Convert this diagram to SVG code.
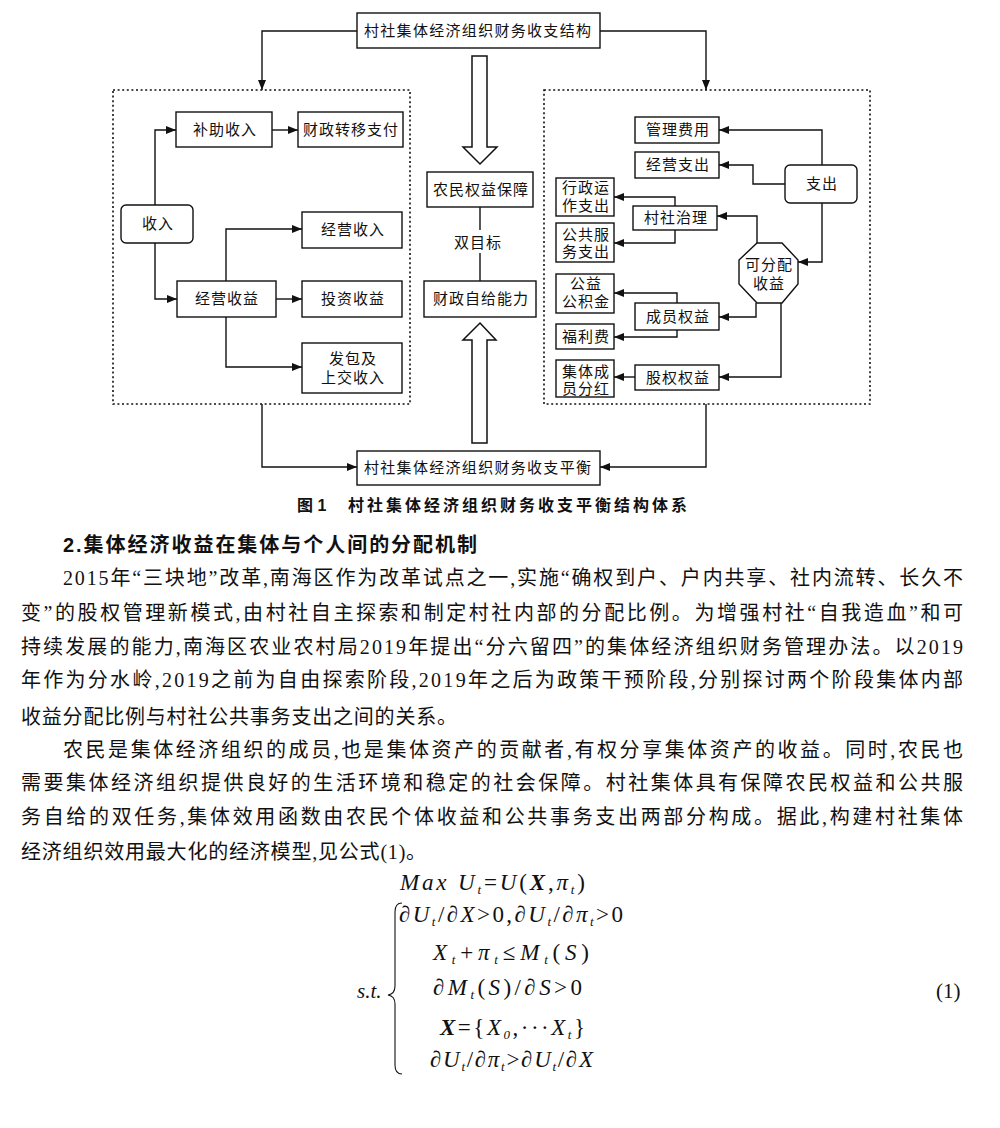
<svg xmlns="http://www.w3.org/2000/svg" width="1000" height="1128" viewBox="0 0 1000 1128">
<style>
.bx{fill:#fff;stroke:#111;stroke-width:1.4}
.dot{fill:none;stroke:#111;stroke-width:1.6;stroke-dasharray:2 2.6}
.ln{fill:none;stroke:#111;stroke-width:1.4}
.ha{fill:#fff;stroke:#111;stroke-width:1.5}
.t{font-family:"Liberation Serif","Noto Sans CJK SC",serif;font-size:15px;fill:#111;text-anchor:middle;letter-spacing:1px}
.body{font-family:"Liberation Serif","Noto Sans CJK SC",serif;font-size:20px;fill:#111}
.hd{font-family:"Liberation Sans","Noto Sans CJK SC",sans-serif;font-size:20px;font-weight:bold;fill:#111}
.cap{font-family:"Liberation Sans","Noto Sans CJK SC",sans-serif;font-size:16px;font-weight:bold;fill:#111}
.m{font-family:"Liberation Serif","DejaVu Serif",serif;font-size:23px;fill:#111}
.i{font-style:italic}
.b{font-weight:bold;font-style:italic}
.s{font-size:13px;font-style:italic}
</style>
<defs>
<marker id="ar" viewBox="0 0 10 8" refX="10" refY="4" markerWidth="10" markerHeight="8" markerUnits="userSpaceOnUse" orient="auto">
<path d="M0,0 L10,4 L0,8 z" fill="#111"/>
</marker>
</defs>
<rect width="1000" height="1128" fill="#fff"/>

<g id="frames">
<rect class="dot" x="113" y="90" width="297" height="314"/>
<rect class="dot" x="544" y="90" width="326" height="314"/>
</g>

<g id="connectors">
<path class="ln" d="M357,31 H262 V90" marker-end="url(#ar)"/>
<path class="ln" d="M600,31 H706 V90" marker-end="url(#ar)"/>
<path class="ln" d="M262,404 V467 H357" marker-end="url(#ar)"/>
<path class="ln" d="M706,404 V467 H600" marker-end="url(#ar)"/>
<path class="ln" d="M155,205 V130 H176" marker-end="url(#ar)"/>
<path class="ln" d="M155,243 V299 H177" marker-end="url(#ar)"/>
<path class="ln" d="M272,130 H298" marker-end="url(#ar)"/>
<path class="ln" d="M276,299 H302" marker-end="url(#ar)"/>
<path class="ln" d="M226,281 V229 H302" marker-end="url(#ar)"/>
<path class="ln" d="M226,317 V367 H302" marker-end="url(#ar)"/>
<path class="ln" d="M822,165 V130 H719" marker-end="url(#ar)"/>
<path class="ln" d="M785,184 H753 V165 H719" marker-end="url(#ar)"/>
<path class="ln" d="M822,203 V262 H798" marker-end="url(#ar)"/>
<path class="ln" d="M757,243 V216 H717" marker-end="url(#ar)"/>
<path class="ln" d="M675,206 V197 H614" marker-end="url(#ar)"/>
<path class="ln" d="M675,230 V243 H614" marker-end="url(#ar)"/>
<path class="ln" d="M756,303 V317 H719" marker-end="url(#ar)"/>
<path class="ln" d="M781,303 V377 H719" marker-end="url(#ar)"/>
<path class="ln" d="M677,303 V293 H614" marker-end="url(#ar)"/>
<path class="ln" d="M677,330 V337 H614" marker-end="url(#ar)"/>
<path class="ln" d="M635,377 H614" marker-end="url(#ar)"/>
<path class="ln" d="M480,207 V230"/>
<path class="ln" d="M480,253 V281"/>
<polygon class="ha" points="472,56 487,56 487,147 497,147 480,164 463,147 472,147"/>
<polygon class="ha" points="480,323 496,340 487,340 487,443 472,443 472,340 463,340"/>
</g>

<g id="n-top"><rect class="bx" x="357" y="13" width="243" height="35"/><text class="t" x="478" y="36" textLength="228" lengthAdjust="spacing">村社集体经济组织财务收支结构</text></g>
<g id="n-bottom"><rect class="bx" x="357" y="451" width="243" height="34"/><text class="t" x="478" y="473" textLength="228" lengthAdjust="spacing">村社集体经济组织财务收支平衡</text></g>

<g id="n-buzhu"><rect class="bx" x="176" y="112" width="96" height="35"/><text class="t" x="225" y="135">补助收入</text></g>
<g id="n-caizheng"><rect class="bx" x="298" y="112" width="105" height="35"/><text class="t" x="351" y="135">财政转移支付</text></g>
<g id="n-shouru"><rect class="bx" x="121" y="205" width="72" height="38" rx="5"/><text class="t" x="158" y="229">收入</text></g>
<g id="n-jyshouru"><rect class="bx" x="302" y="212" width="100" height="36"/><text class="t" x="353" y="235">经营收入</text></g>
<g id="n-jyshouyi"><rect class="bx" x="177" y="281" width="99" height="36"/><text class="t" x="227" y="304">经营收益</text></g>
<g id="n-touzi"><rect class="bx" x="302" y="281" width="100" height="36"/><text class="t" x="353" y="304">投资收益</text></g>
<g id="n-fabao"><rect class="bx" x="302" y="343" width="100" height="50"/><text class="t" x="353" y="364">发包及</text><text class="t" x="353" y="383">上交收入</text></g>

<g id="n-nongmin"><rect class="bx" x="427" y="172" width="106" height="35"/><text class="t" x="481" y="195">农民权益保障</text></g>
<g id="n-shuang"><text class="t" x="478" y="248">双目标</text></g>
<g id="n-zigei"><rect class="bx" x="424" y="281" width="112" height="36"/><text class="t" x="481" y="304">财政自给能力</text></g>

<g id="n-guanli"><rect class="bx" x="635" y="117" width="84" height="26"/><text class="t" x="678" y="135">管理费用</text></g>
<g id="n-jyzhichu"><rect class="bx" x="635" y="152" width="84" height="26"/><text class="t" x="678" y="170">经营支出</text></g>
<g id="n-zhichu"><rect class="bx" x="785" y="165" width="72" height="38" rx="5"/><text class="t" x="822" y="189">支出</text></g>
<g id="n-xingzheng"><rect class="bx" x="556" y="178" width="58" height="38"/><text class="t" x="586" y="193">行政运</text><text class="t" x="586" y="211">作支出</text></g>
<g id="n-zhili"><rect class="bx" x="633" y="206" width="84" height="24"/><text class="t" x="676" y="223">村社治理</text></g>
<g id="n-gonggong"><rect class="bx" x="556" y="223" width="58" height="39"/><text class="t" x="586" y="240">公共服</text><text class="t" x="586" y="257">务支出</text></g>
<g id="n-kefenpei"><polygon class="bx" points="757,243 782,243 798,260 798,284 782,303 757,303 739,284 739,260"/><text class="t" x="769" y="270">可分配</text><text class="t" x="769" y="289">收益</text></g>
<g id="n-gongyi"><rect class="bx" x="556" y="274" width="58" height="39"/><text class="t" x="586" y="289">公益</text><text class="t" x="586" y="307">公积金</text></g>
<g id="n-chengyuan"><rect class="bx" x="635" y="303" width="84" height="27"/><text class="t" x="678" y="322">成员权益</text></g>
<g id="n-fuli"><rect class="bx" x="556" y="324" width="58" height="25"/><text class="t" x="586" y="342">福利费</text></g>
<g id="n-fenhong"><rect class="bx" x="556" y="360" width="58" height="37"/><text class="t" x="586" y="377">集体成</text><text class="t" x="586" y="394">员分红</text></g>
<g id="n-guquan"><rect class="bx" x="635" y="365" width="84" height="25"/><text class="t" x="678" y="383">股权权益</text></g>

<g id="caption">
<text class="cap" x="297" y="511">图 1</text>
<text class="cap" x="348" y="511" textLength="339" lengthAdjust="spacing">村社集体经济组织财务收支平衡结构体系</text>
</g>

<g id="body">
<text class="hd" x="63" y="552" textLength="414" lengthAdjust="spacing">2.集体经济收益在集体与个人间的分配机制</text>
<text class="body" x="63" y="585" textLength="900" lengthAdjust="spacing">2015年“三块地”改革,南海区作为改革试点之一,实施“确权到户、户内共享、社内流转、长久不</text>
<text class="body" x="21" y="620" textLength="942" lengthAdjust="spacing">变”的股权管理新模式,由村社自主探索和制定村社内部的分配比例。为增强村社“自我造血”和可</text>
<text class="body" x="21" y="654" textLength="942" lengthAdjust="spacing">持续发展的能力,南海区农业农村局2019年提出“分六留四”的集体经济组织财务管理办法。以2019</text>
<text class="body" x="21" y="687" textLength="942" lengthAdjust="spacing">年作为分水岭,2019之前为自由探索阶段,2019年之后为政策干预阶段,分别探讨两个阶段集体内部</text>
<text class="body" x="21" y="724" letter-spacing="0.8">收益分配比例与村社公共事务支出之间的关系。</text>
<text class="body" x="63" y="757" textLength="900" lengthAdjust="spacing">农民是集体经济组织的成员,也是集体资产的贡献者,有权分享集体资产的收益。同时,农民也</text>
<text class="body" x="21" y="790" textLength="942" lengthAdjust="spacing">需要集体经济组织提供良好的生活环境和稳定的社会保障。村社集体具有保障农民权益和公共服</text>
<text class="body" x="21" y="824" textLength="942" lengthAdjust="spacing">务自给的双任务,集体效用函数由农民个体收益和公共事务支出两部分构成。据此,构建村社集体</text>
<text class="body" x="21" y="859" letter-spacing="0.8">经济组织效用最大化的经济模型,见公式(1)。</text>
</g>

<g id="formula">
<text class="m" x="400" y="890" textLength="185" lengthAdjust="spacing"><tspan class="i">Max U</tspan><tspan class="s" dy="4">t</tspan><tspan dy="-4">=</tspan><tspan class="i">U</tspan>(<tspan class="b">X</tspan>,<tspan class="i">π</tspan><tspan class="s" dy="4">t</tspan><tspan dy="-4">)</tspan></text>
<path class="ln" d="M402,903 Q395,903 395,912 L395,986 Q395,994 388,995 Q395,996 395,1004 L395,1065 Q395,1074 402,1074" style="stroke-width:1.1"/>
<text class="m" x="399" y="922" textLength="224" lengthAdjust="spacing">∂<tspan class="i">U</tspan><tspan class="s" dy="4">t</tspan><tspan dy="-4">/∂</tspan><tspan class="i">X</tspan>&gt;0,∂<tspan class="i">U</tspan><tspan class="s" dy="4">t</tspan><tspan dy="-4">/∂</tspan><tspan class="i">π</tspan><tspan class="s" dy="4">t</tspan><tspan dy="-4">&gt;0</tspan></text>
<text class="m" x="433" y="960" textLength="156" lengthAdjust="spacing"><tspan class="i">X</tspan><tspan class="s" dy="4">t</tspan><tspan dy="-4">+</tspan><tspan class="i">π</tspan><tspan class="s" dy="4">t</tspan><tspan dy="-4">≤</tspan><tspan class="i">M</tspan><tspan class="s" dy="4">t</tspan><tspan dy="-4">(</tspan><tspan class="i">S</tspan>)</text>
<text class="m" x="433" y="995" textLength="149" lengthAdjust="spacing">∂<tspan class="i">M</tspan><tspan class="s" dy="4">t</tspan><tspan dy="-4">(</tspan><tspan class="i">S</tspan>)/∂<tspan class="i">S</tspan>&gt;0</text>
<text class="m" x="440" y="1035" textLength="145" lengthAdjust="spacing"><tspan class="b">X</tspan>={<tspan class="i">X</tspan><tspan class="s" dy="4">0</tspan><tspan dy="-4">,···</tspan><tspan class="i">X</tspan><tspan class="s" dy="4">t</tspan><tspan dy="-4">}</tspan></text>
<text class="m" x="430" y="1067" textLength="163" lengthAdjust="spacing">∂<tspan class="i">U</tspan><tspan class="s" dy="4">t</tspan><tspan dy="-4">/∂</tspan><tspan class="i">π</tspan><tspan class="s" dy="4">t</tspan><tspan dy="-4">&gt;∂</tspan><tspan class="i">U</tspan><tspan class="s" dy="4">t</tspan><tspan dy="-4">/∂</tspan><tspan class="i">X</tspan></text>
<text class="m i" x="357" y="998" style="font-size:21px">s.t.</text>
<text class="m" x="936" y="998" style="font-size:21px">(1)</text>
</g>
</svg>
